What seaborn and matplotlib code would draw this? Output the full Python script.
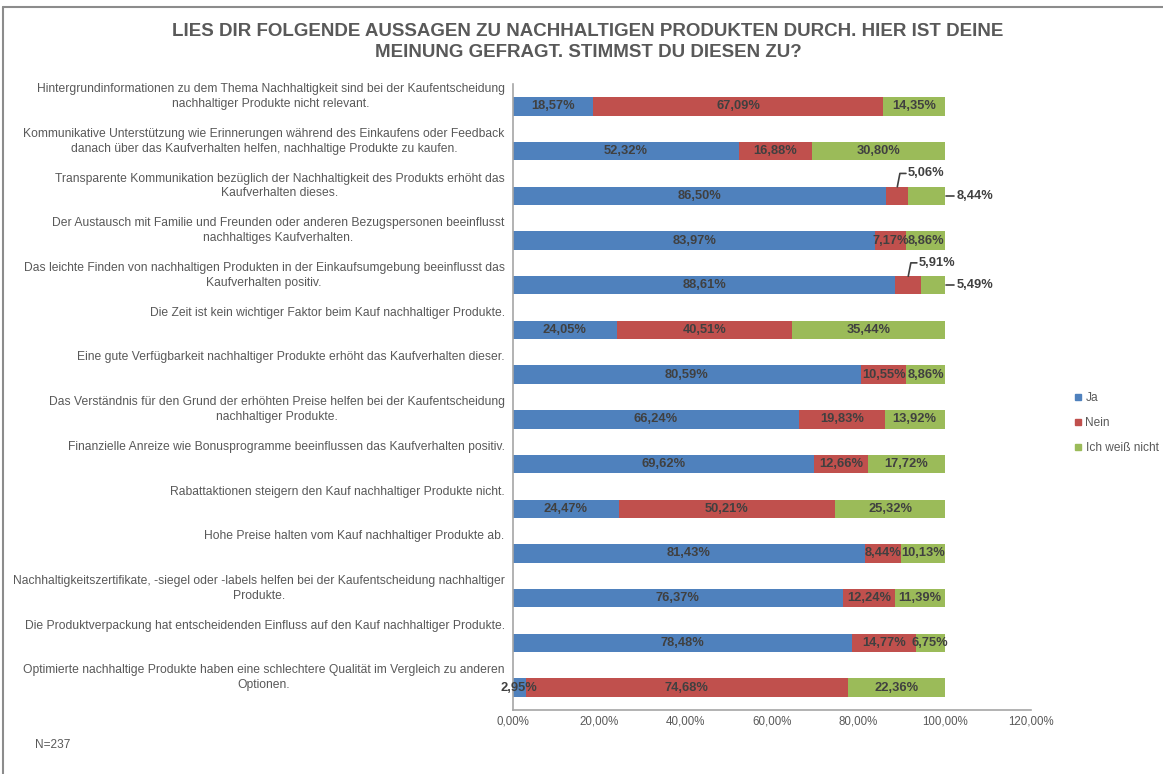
import numpy as np
import pandas as pd
import matplotlib.pyplot as plt
from matplotlib.lines import Line2D
from matplotlib.ticker import FuncFormatter
import matplotlib.transforms as mtransforms
import seaborn as sns

statements = [
    'Hintergrundinformationen zu dem Thema Nachhaltigkeit sind bei der Kaufentscheidung\nnachhaltiger Produkte nicht relevant.',
    'Kommunikative Unterstützung wie Erinnerungen während des Einkaufens oder Feedback\ndanach über das Kaufverhalten helfen, nachhaltige Produkte zu kaufen.',
    'Transparente Kommunikation bezüglich der Nachhaltigkeit des Produkts erhöht das\nKaufverhalten dieses.',
    'Der Austausch mit Familie und Freunden oder anderen Bezugspersonen beeinflusst\nnachhaltiges Kaufverhalten.',
    'Das leichte Finden von nachhaltigen Produkten in der Einkaufsumgebung beeinflusst das\nKaufverhalten positiv.',
    'Die Zeit ist kein wichtiger Faktor beim Kauf nachhaltiger Produkte.',
    'Eine gute Verfügbarkeit nachhaltiger Produkte erhöht das Kaufverhalten dieser.',
    'Das Verständnis für den Grund der erhöhten Preise helfen bei der Kaufentscheidung\nnachhaltiger Produkte.',
    'Finanzielle Anreize wie Bonusprogramme beeinflussen das Kaufverhalten positiv.',
    'Rabattaktionen steigern den Kauf nachhaltiger Produkte nicht.',
    'Hohe Preise halten vom Kauf nachhaltiger Produkte ab.',
    'Nachhaltigkeitszertifikate, -siegel oder -labels helfen bei der Kaufentscheidung nachhaltiger\nProdukte.',
    'Die Produktverpackung hat entscheidenden Einfluss auf den Kauf nachhaltiger Produkte.',
    'Optimierte nachhaltige Produkte haben eine schlechtere Qualität im Vergleich zu anderen\nOptionen.',
]
ja = [18.57, 52.32, 86.50, 83.97, 88.61, 24.05, 80.59, 66.24, 69.62, 24.47, 81.43, 76.37, 78.48, 2.95]
nein = [67.09, 16.88, 5.06, 7.17, 5.91, 40.51, 10.55, 19.83, 12.66, 50.21, 8.44, 12.24, 14.77, 74.68]
weiss_nicht = [14.35, 30.80, 8.44, 8.86, 5.49, 35.44, 8.86, 13.92, 17.72, 25.32, 10.13, 11.39, 6.75, 22.36]
series_names = ['Ja', 'Nein', 'Ich weiß nicht']
callout_rows = [2, 4]  # small segments labelled outside the bar

colors = ['#4F81BD', '#C0504D', '#9BBB59']
grey = '#595959'
dark = '#404040'

df = pd.DataFrame({'statement': statements,
                   'ja': np.array(ja) / 100,
                   'nein': np.array(nein) / 100,
                   'weiss': np.array(weiss_nicht) / 100})
df['cum_nein'] = df['ja'] + df['nein']
df['cum_all'] = df['cum_nein'] + df['weiss']

sns.set_theme(style='white')
plt.rcParams['font.family'] = ['Liberation Sans', 'DejaVu Sans']

fig = plt.figure(figsize=(11.63, 7.74), dpi=100)
ax = fig.add_axes([513 / 1163, 1 - 710 / 774, (1031 - 513) / 1163, (710 - 84) / 774])

# stacked bars drawn back to front
for col, c in zip(['cum_all', 'cum_nein', 'ja'], colors[::-1]):
    sns.barplot(data=df, x=col, y='statement', order=statements, orient='h',
                color=c, width=0.41, saturation=1, linewidth=0, ax=ax)

ax.set_xlim(0, 1.2)
ax.set_ylim(len(statements) - 0.5, -0.5)
ax.set_xticks(np.arange(0, 1.21, 0.2))
ax.xaxis.set_major_formatter(FuncFormatter(lambda v, p: f'{v * 100:.2f}%'.replace('.', ',')))
ax.tick_params(axis='x', colors=grey, labelsize=8.3, length=0, pad=4)
ax.set_yticks([])
ax.set_xlabel('')
ax.set_ylabel('')
for s in ['top', 'right']:
    ax.spines[s].set_visible(False)
for s in ['left', 'bottom']:
    ax.spines[s].set_color('#A6A6A6')
    ax.spines[s].set_linewidth(1.2)

# category labels, top aligned in their band
trans = mtransforms.blended_transform_factory(ax.transAxes, ax.transData)
for i, txt in enumerate(statements):
    ax.text(-0.016, i - 0.52, txt, transform=trans, ha='right', va='top',
            multialignment='center', fontsize=8.7, color=grey, linespacing=1.3)

def fmt(v):
    return f'{v * 100:.2f}%'.replace('.', ',')

for i, row in df.iterrows():
    segs = [(0, row['ja']), (row['ja'], row['nein']), (row['cum_nein'], row['weiss'])]
    for k, (start, w) in enumerate(segs):
        xc = start + w / 2
        if i in callout_rows and k == 1:
            ax.plot([xc, xc + 0.006, xc + 0.02], [i - 0.2, i - 0.5, i - 0.5],
                    color=dark, lw=1.2)
            ax.text(xc + 0.025, i - 0.5, fmt(w), ha='left', va='center',
                    fontsize=9.3, fontweight='bold', color=dark)
        elif i in callout_rows and k == 2:
            end = start + w
            ax.plot([end + 0.004, end + 0.022], [i, i], color=dark, lw=1.2)
            ax.text(end + 0.027, i, fmt(w), ha='left', va='center',
                    fontsize=9.3, fontweight='bold', color=dark)
        else:
            ax.text(xc, i, fmt(w), ha='center', va='center',
                    fontsize=9.3, fontweight='bold', color=dark)

# legend
handles = [Line2D([], [], marker='s', linestyle='', color=c, markersize=5) for c in colors]
fig.legend(handles, series_names, loc='center left', bbox_to_anchor=(1064 / 1163, 1 - 423 / 774),
           frameon=False, fontsize=8.6, labelcolor=grey, handlelength=0.6, handletextpad=0.3,
           labelspacing=1.1)

fig.text(588 / 1163, 1 - 42 / 774,
         'LIES DIR FOLGENDE AUSSAGEN ZU NACHHALTIGEN PRODUKTEN DURCH. HIER IST DEINE\nMEINUNG GEFRAGT. STIMMST DU DIESEN ZU?',
         ha='center', va='center', fontsize=13.5, fontweight='bold', color=grey,
         linespacing=1.38)
fig.text(35 / 1163, 1 - 745 / 774, 'N=237', ha='left', va='center', fontsize=8.6, color=grey)

# chart border (left and top visible)
fig.add_artist(Line2D([3 / 1163, 3 / 1163], [0, 1 - 7 / 774], transform=fig.transFigure,
                      color='#8C8C8C', lw=1.5))
fig.add_artist(Line2D([3 / 1163, 1], [1 - 7 / 774, 1 - 7 / 774], transform=fig.transFigure,
                      color='#8C8C8C', lw=1.5))

fig.savefig('out.png', dpi=100)
